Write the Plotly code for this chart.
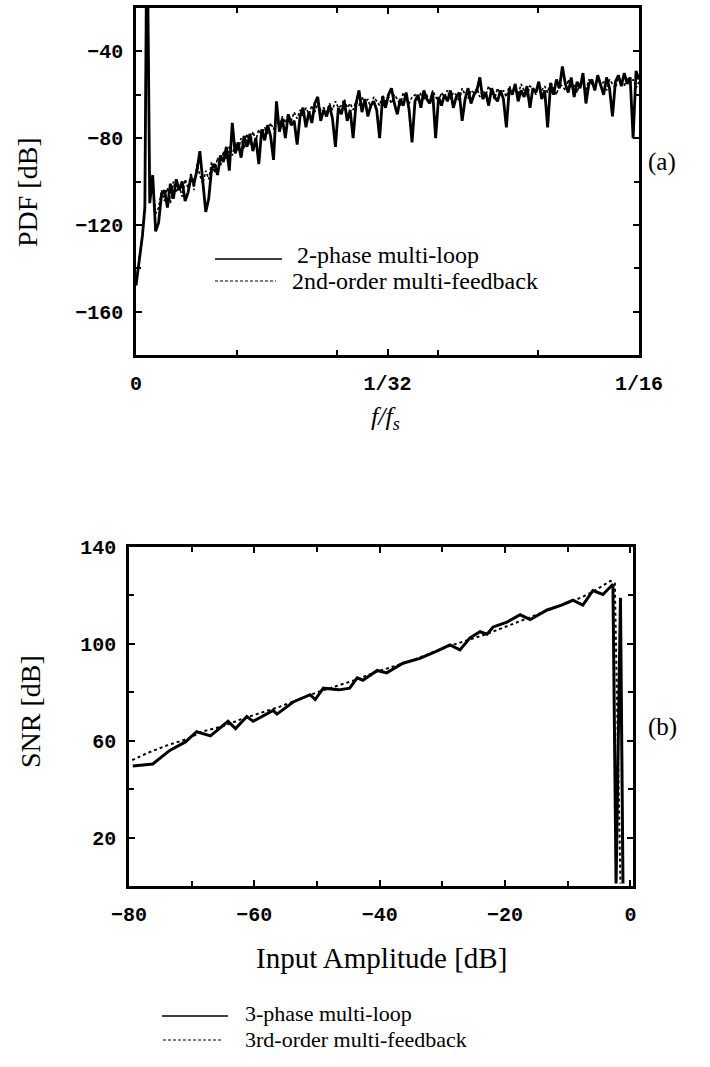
import numpy as np
import plotly.graph_objects as go

# ---------------- (a) power density spectrum ----------------
# low-frequency part: DC region and the input tone
f_low = [0.0, 0.0004, 0.0008, 0.0011, 0.0013, 0.00145]
pdf_low_ml = [-148, -137, -125, -112, -5, -5]
pdf_low_mf = [-147, -136, -124, -111, -5, -5]

# noise floor sampled every 3 FFT bins (bin width 1/8192) from bin 14 to 512
fft_bins = np.arange(14, 513, 3)
f_noise = fft_bins / 8192.0

pdf_noise_ml = [  # 2-phase multi-loop
    -110, -97, -123, -119, -106, -104, -112, -101, -108, -99,
    -104, -100, -109, -105, -98, -101, -95, -86, -99, -114,
    -108, -94, -92, -97, -88, -91, -84, -95, -73, -87,
    -82, -89, -79, -84, -78, -86, -80, -92, -76, -81,
    -74, -79, -90, -63, -77, -71, -80, -69, -74, -72,
    -83, -70, -66, -75, -68, -73, -64, -61, -72, -67,
    -70, -65, -71, -84, -66, -69, -63, -72, -67, -80,
    -64, -58, -68, -62, -70, -65, -63, -67, -80, -61,
    -66, -60, -57, -64, -69, -62, -65, -59, -67, -82,
    -63, -60, -66, -58, -62, -64, -59, -80, -61, -65,
    -60, -63, -58, -66, -61, -59, -72, -62, -57, -64,
    -60, -58, -52, -62, -59, -65, -57, -61, -63, -58,
    -62, -75, -57, -60, -55, -63, -58, -61, -56, -66,
    -57, -59, -54, -62, -58, -75, -55, -60, -53, -57,
    -47, -55, -59, -52, -61, -54, -57, -50, -64, -55,
    -53, -58, -51, -56, -60, -52, -57, -70, -54, -51,
    -56, -50, -55, -52, -80, -49, -53,
]
pdf_noise_mf = [  # 2nd-order multi-feedback
    -106, -101, -115, -112, -104, -109, -103, -110, -100, -105,
    -102, -107, -99, -103, -96, -104, -92, -97, -101, -95,
    -99, -91, -96, -89, -93, -86, -90, -84, -88, -82,
    -86, -80, -85, -78, -83, -77, -81, -76, -79, -75,
    -78, -73, -76, -71, -75, -70, -73, -69, -72, -68,
    -71, -67, -70, -66, -69, -65, -68, -64, -67, -66,
    -68, -64, -67, -63, -66, -65, -62, -66, -64, -67,
    -63, -65, -61, -64, -62, -66, -61, -63, -65, -60,
    -63, -61, -64, -60, -62, -65, -59, -62, -64, -61,
    -60, -63, -59, -62, -60, -64, -58, -61, -63, -59,
    -61, -58, -62, -59, -60, -63, -57, -60, -62, -58,
    -59, -57, -61, -58, -60, -56, -59, -62, -57, -60,
    -58, -61, -56, -59, -57, -60, -55, -58, -61, -56,
    -57, -60, -55, -58, -56, -59, -54, -57, -60, -55,
    -56, -58, -53, -57, -55, -59, -54, -56, -58, -53,
    -55, -57, -52, -56, -54, -58, -53, -55, -57, -52,
    -54, -56, -52, -55, -53, -57, -54,
]

f_all = list(f_low) + list(f_noise)
pdf_ml = pdf_low_ml + pdf_noise_ml
pdf_mf = pdf_low_mf + pdf_noise_mf

# ---------------- (b) SNR versus input amplitude ----------------
amp_ml = [-79.4, -76.2, -73.5, -71.0, -69.2, -67.0, -64.2, -63.0, -61.2, -60.2,
          -57.0, -56.4, -53.8, -51.1, -50.3, -49.0, -46.5, -44.8, -43.6, -42.7,
          -40.4, -38.9, -36.3, -33.6, -30.9, -28.8, -27.2, -25.6, -24.0, -22.9,
          -21.9, -19.7, -17.6, -16.0, -13.3, -11.0, -9.2, -7.6, -6.0, -4.4,
          -2.8, -2.3, -1.6, -1.2]
snr_ml = [49.6, 50.4, 56.0, 59.5, 63.7, 62.0, 68.0, 65.0, 70.0, 68.0,
          72.5, 71.0, 76.0, 79.0, 77.0, 81.7, 81.0, 81.7, 86.0, 85.0,
          89.0, 88.0, 92.0, 94.0, 97.0, 99.6, 97.5, 102.5, 105.0, 104.0,
          107.0, 109.0, 112.0, 110.0, 114.0, 116.0, 118.0, 116.0, 122.0, 120.4,
          124.6, 1.0, 119.0, 1.0]

amp_mf = [-79.5, -77.0, -74.0, -71.0, -68.0, -65.0, -62.0, -59.0, -56.0, -53.0,
          -50.0, -47.0, -44.0, -41.0, -38.0, -35.0, -32.0, -29.0, -26.0, -23.0,
          -20.0, -17.0, -14.0, -11.0, -8.0, -6.0, -4.5, -3.2, -2.5, -1.6]
snr_mf = [52.0, 55.0, 58.0, 60.5, 64.0, 66.0, 69.0, 71.5, 74.0, 77.0,
          80.0, 82.5, 85.0, 88.0, 90.5, 93.0, 96.0, 99.0, 101.5, 104.0,
          107.0, 110.0, 113.0, 116.0, 119.0, 121.5, 124.0, 126.0, 125.0, 1.0]

# tick labels
pdf_ticks = [-160, -120, -80, -40]
f_ticks = [0, 1 / 32, 1 / 16]
f_ticktext = ["0", "1/32", "1/16"]
snr_ticks = [20, 60, 100, 140]
amp_ticks = [-80, -60, -40, -20, 0]

W, H = 710, 1067
SERIF = "Liberation Serif, Times New Roman, serif"
MONO = "Liberation Mono, Courier New, monospace"
tickfont = dict(family=MONO, size=20, color="black", weight="bold")


def px(x):
    return x / W


def py(y):
    return 1 - y / H


fig = go.Figure()

fig.add_trace(go.Scatter(x=f_all, y=pdf_mf, mode="lines", xaxis="x", yaxis="y",
                         line=dict(color="black", width=1.6, dash="3px,2px"),
                         showlegend=False))
fig.add_trace(go.Scatter(x=f_all, y=pdf_ml, mode="lines", xaxis="x", yaxis="y",
                         line=dict(color="black", width=2.8), showlegend=False))

fig.add_trace(go.Scatter(x=amp_mf, y=snr_mf, mode="lines", xaxis="x2", yaxis="y2",
                         line=dict(color="black", width=2.0, dash="dot"),
                         showlegend=False))
fig.add_trace(go.Scatter(x=amp_ml, y=snr_ml, mode="lines", xaxis="x2", yaxis="y2",
                         line=dict(color="black", width=3.0), showlegend=False))

axis_common = dict(showline=True, linecolor="black", linewidth=2.5, mirror="ticks",
                   ticks="inside", ticklen=6, tickwidth=1.5, tickcolor="black",
                   showgrid=False, zeroline=False, tickfont=tickfont,
                   automargin=False)
minor_common = dict(ticks="inside", ticklen=5, tickcolor="black", tickwidth=1.5)

fig.update_layout(
    width=W, height=H,
    margin=dict(l=0, r=0, t=0, b=0),
    paper_bgcolor="white", plot_bgcolor="white",
    xaxis=dict(domain=[px(136), px(639)], range=[0, 0.0625], anchor="y",
               tickmode="array", tickvals=f_ticks, ticktext=f_ticktext,
               ticklabelstandoff=8,
               minor=dict(tick0=0, dtick=0.0125, **minor_common),
               **axis_common),
    yaxis=dict(domain=[py(355), py(8)], range=[-180, -20], anchor="x",
               tickmode="array", tickvals=pdf_ticks, ticklabelstandoff=6,
               minor=dict(tick0=0, dtick=20, **minor_common),
               **axis_common),
    xaxis2=dict(domain=[px(129), px(633)], range=[-80, 0.4], anchor="y2",
                tickmode="array", tickvals=amp_ticks, ticklabelstandoff=8,
                minor=dict(tick0=0, dtick=10, **minor_common),
                **axis_common),
    yaxis2=dict(domain=[py(886), py(547)], range=[0, 140], anchor="x2",
                tickmode="array", tickvals=snr_ticks, ticklabelstandoff=6,
                minor=dict(tick0=0, dtick=20, **minor_common),
                **axis_common),
)


def text(x, y, s, size, angle=0, xanchor="center", italic=False):
    fig.add_annotation(x=px(x), y=py(y), xref="paper", yref="paper", text=s,
                       showarrow=False, textangle=angle, xanchor=xanchor,
                       yanchor="middle",
                       font=dict(family=SERIF, size=size, color="black",
                                 style="italic" if italic else "normal"))


def key(x0, x1, y, dash, width):
    fig.add_shape(type="line", xref="paper", yref="paper",
                  x0=px(x0), x1=px(x1), y0=py(y), y1=py(y),
                  line=dict(color="black", width=width, dash=dash))


# axis titles and panel tags
text(28, 192, "PDF [dB]", 28, angle=-90)
text(385, 418, "f/f<sub>s</sub>", 26, italic=True)
text(662, 162, "(a)", 25)
text(30, 712, "SNR [dB]", 28, angle=-90)
text(382, 958, "Input Amplitude [dB]", 29)
text(662, 727, "(b)", 25)

# legend of (a)
key(215, 282, 259, "solid", 1.5)
key(215, 276, 281, "3px,2px", 1.2)
text(295, 255, "2-phase multi-loop", 24, xanchor="left")
text(290, 281, "2nd-order multi-feedback", 24, xanchor="left")

# legend of (b)
key(162, 228, 1016, "solid", 1.5)
key(163, 223, 1040, "3px,2px", 1.2)
text(243, 1013, "3-phase multi-loop", 22, xanchor="left")
text(243, 1039, "3rd-order multi-feedback", 22, xanchor="left")

fig.write_html("out.html")
